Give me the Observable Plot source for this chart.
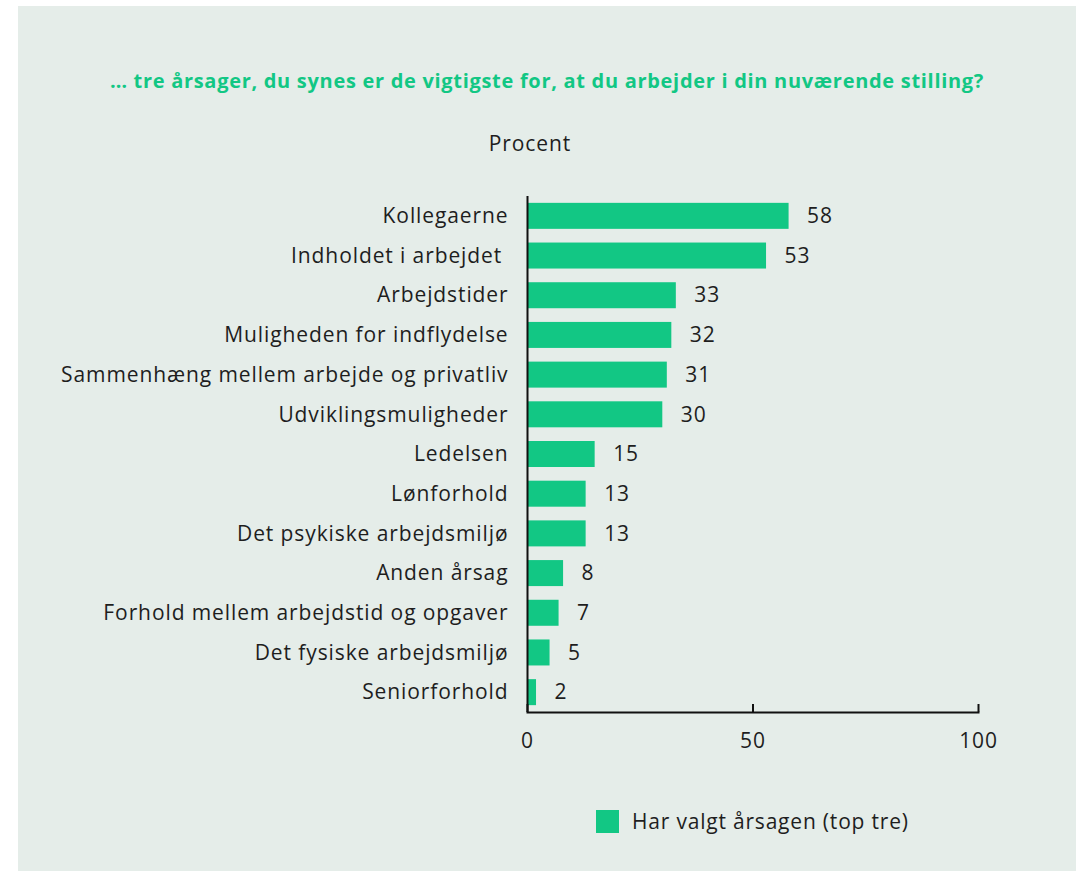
<!DOCTYPE html>
<html><head><meta charset="utf-8">
<script src="https://cdn.jsdelivr.net/npm/d3@7"></script>
<script src="https://cdn.jsdelivr.net/npm/@observablehq/plot@0.6"></script>
<style>
html,body{margin:0;padding:0;background:#fff;}
#wrap{position:relative;width:1082px;height:871px;font-family:"Open Sans",sans-serif;color:#1e1e1e;}
#panel{position:absolute;left:18px;top:6px;width:1058px;height:865px;background:#e5ede9;}
#title{position:absolute;left:18px;width:1058px;top:67px;text-align:center;font-weight:700;font-size:20px;letter-spacing:0.7px;color:#12c784;}
#sub{position:absolute;left:430px;width:200px;top:129px;text-align:center;font-size:21px;letter-spacing:0.9px;}
#chart{position:absolute;left:0;top:0;}
#legend{position:absolute;left:596px;top:807px;display:flex;align-items:center;font-size:21px;letter-spacing:0.8px;}
#legend .sw{width:23px;height:23px;background:#12c784;margin-right:13px;}
</style></head>
<body><div id="wrap"><div id="panel"></div>
<div id="title">… tre årsager, du synes er de vigtigste for, at du arbejder i din nuværende stilling?</div>
<div id="sub">Procent</div>
<div id="chart"></div>
<div id="legend"><div class="sw"></div><span>Har valgt årsagen (top tre)</span></div>
</div>
<script>
const categories = ["Kollegaerne","Indholdet i arbejdet\u00a0","Arbejdstider","Muligheden for indflydelse","Sammenhæng mellem arbejde og privatliv","Udviklingsmuligheder","Ledelsen","Lønforhold","Det psykiske arbejdsmiljø","Anden årsag","Forhold mellem arbejdstid og opgaver","Det fysiske arbejdsmiljø","Seniorforhold"];
const values = [58,53,33,32,31,30,15,13,13,8,7,5,2];
const xTicks = [0,50,100];
const data = categories.map((c,i)=>({cat:c, v:values[i]}));
const green = "#12c784";
const chart = Plot.plot({
  width:1082, height:871,
  marginLeft:527, marginRight:104, marginTop:196, marginBottom:159,
  style:{background:"transparent", fontFamily:"Open Sans, sans-serif", fontSize:"21px", letterSpacing:"0.9px", color:"#1e1e1e"},
  x:{domain:[0,100], ticks:xTicks, label:null},
  y:{domain:categories, paddingInner:0.345, paddingOuter:0.1725, round:false, label:null},
  marks:[
    Plot.barX(data,{x:"v", y:"cat", fill:green}),
    Plot.text(data,{x:"v", y:"cat", text:d=>String(d.v), textAnchor:"start", dx:18, fill:"#1e1e1e", fontSize:21}),
    Plot.ruleX([0],{stroke:"#111", strokeWidth:2}),
    Plot.ruleX(xTicks,{x:d=>d, stroke:"#111", strokeWidth:2, insetTop:508}),
    Plot.frame({anchor:"bottom", stroke:"#111", strokeWidth:2}),
    Plot.axisY({tickSize:0, tickPadding:19, fontSize:21}),
    Plot.axisX({ticks:xTicks, tickSize:0, tickPadding:21, fontSize:21})
  ]
});
document.getElementById("chart").append(chart);
</script>
</body></html>
